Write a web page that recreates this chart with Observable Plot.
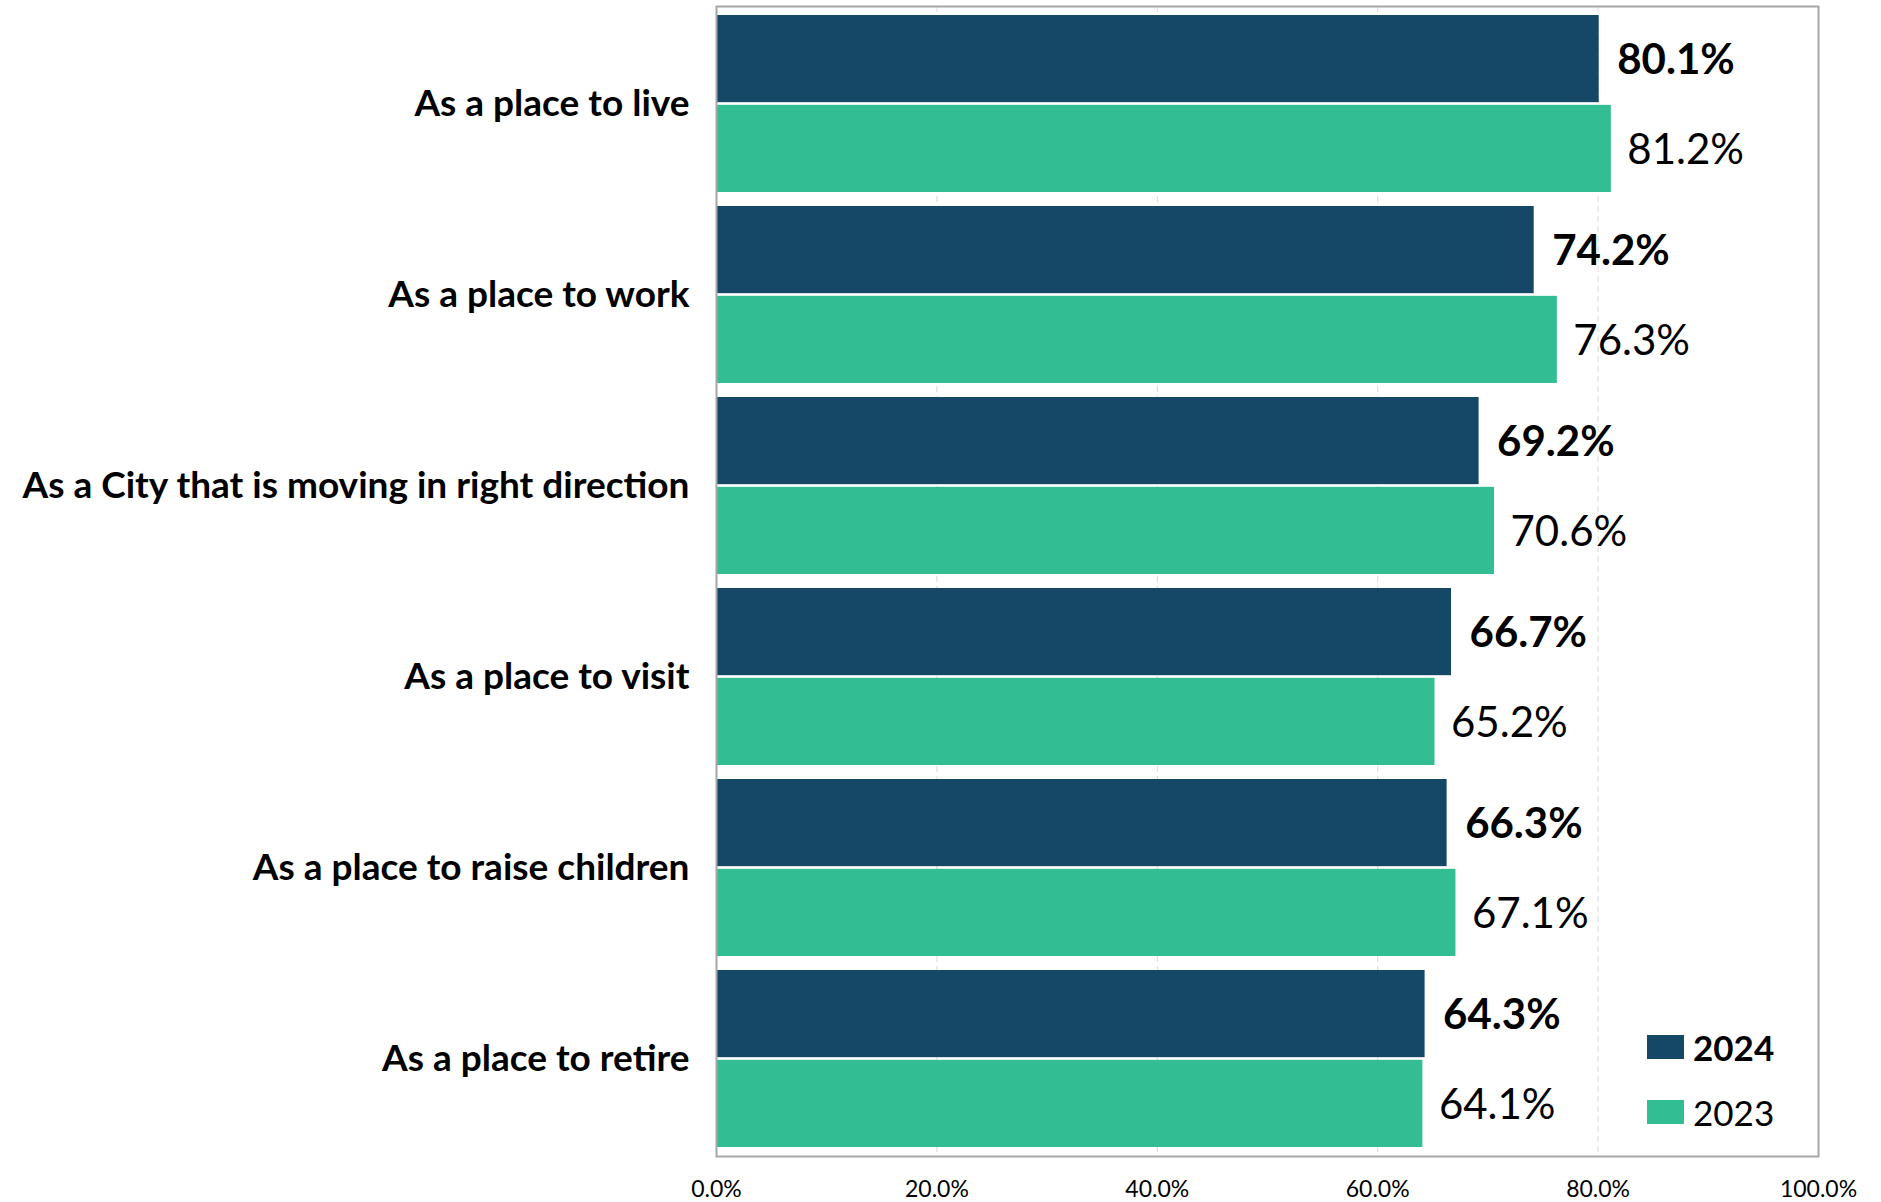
<!DOCTYPE html>
<html>
<head>
<meta charset="utf-8">
<script src="https://cdn.jsdelivr.net/npm/d3@7"></script>
<script src="https://cdn.jsdelivr.net/npm/@observablehq/plot@0.6"></script>
<style>
  html, body { margin: 0; padding: 0; background: #fff; }
  #wrap { position: relative; width: 1881px; height: 1202px; font-family: Lato, "Open Sans", sans-serif; }
  #legend { position: absolute; left: 1647px; top: 1014px; }
  .item { display: flex; align-items: center; height: 65px; }
  .sw { width: 37px; height: 24px; margin-right: 9px; }
  .lab { font-size: 35px; color: #000; }
</style>
</head>
<body>
<div id="wrap">
  <div id="chart"></div>
  <div id="legend"></div>
</div>
<script>
const categories = [
  "As a place to live",
  "As a place to work",
  "As a City that is moving in right direction",
  "As a place to visit",
  "As a place to raise children",
  "As a place to retire"
];
const values2024 = [80.1, 74.2, 69.2, 66.7, 66.3, 64.3];
const values2023 = [81.2, 76.3, 70.6, 65.2, 67.1, 64.1];
const xTicks = [0, 20, 40, 60, 80, 100];
const seriesNames = ["2024", "2023"];
const colors = ["#154766", "#32be92"];

const data2024 = categories.map((c, i) => ({category: c, value: values2024[i]}));
const data2023 = categories.map((c, i) => ({category: c, value: values2023[i]}));

const W = 1881, H = 1202;
const mTop = 6, mBottom = 46, mLeft = 716, mRight = W - 1818;
const padInner = 0.073;
const step = (H - mTop - mBottom) / categories.length;
const bw = step * (1 - padInner);
const gap = 2;
const half = (bw - gap) / 2;

const chart = Plot.plot({
  width: W,
  height: H,
  marginTop: mTop,
  marginBottom: mBottom,
  marginLeft: mLeft,
  marginRight: mRight,
  style: {fontFamily: "Lato, 'Open Sans', sans-serif", background: "#fff"},
  x: {domain: [0, 100], label: null, ticks: xTicks, tickFormat: d => d.toFixed(1) + "%"},
  y: {domain: categories, label: null, paddingInner: padInner, paddingOuter: padInner / 2},
  marks: [
    Plot.ruleX(xTicks.slice(1, -1), {stroke: "#d9d9d9", strokeWidth: 1, strokeDasharray: "6,4"}),
    Plot.barX(data2024, {y: "category", x: "value", fill: colors[0], insetBottom: half + gap, insetTop: 0}),
    Plot.barX(data2023, {y: "category", x: "value", fill: colors[1], insetTop: half + gap, insetBottom: 0}),
    Plot.text(data2024, {y: "category", x: "value", text: d => d.value.toFixed(1) + "%", dx: 18, dy: -(half + gap) / 2 + 1, textAnchor: "start", fontSize: 42, fontWeight: "bold", fill: "#000"}),
    Plot.text(data2023, {y: "category", x: "value", text: d => d.value.toFixed(1) + "%", dx: 16, dy: (half + gap) / 2 + 2, textAnchor: "start", fontSize: 42, fill: "#000"}),
    Plot.axisX({ticks: xTicks, tickFormat: d => d.toFixed(1) + "%", tickSize: 0, tickPadding: 24, fontSize: 23, label: null, fill: "#000"}),
    Plot.axisY({tickSize: 0, tickPadding: 27, fontSize: 37, fontWeight: "bold", label: null, fill: "#000"}),
    Plot.frame({stroke: "#a6a6a6", strokeWidth: 2})
  ]
});
document.getElementById("chart").appendChild(chart);

const legend = document.getElementById("legend");
seriesNames.forEach((s, i) => {
  const it = document.createElement("div");
  it.className = "item";
  const sw = document.createElement("div");
  sw.className = "sw";
  sw.style.background = colors[i];
  const lab = document.createElement("span");
  lab.className = "lab";
  lab.textContent = s;
  if (i === 0) lab.style.fontWeight = "bold";
  it.appendChild(sw); it.appendChild(lab);
  legend.appendChild(it);
});
</script>
</body>
</html>
